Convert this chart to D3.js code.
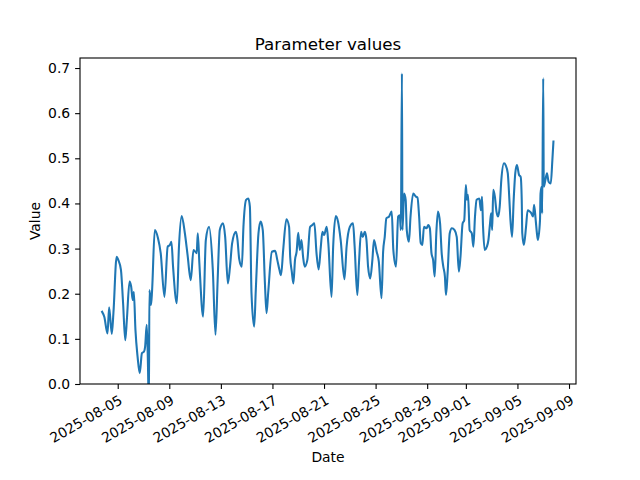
<!DOCTYPE html>
<html>
<head>
<meta charset="utf-8">
<script src="https://cdn.jsdelivr.net/npm/d3@7"></script>
<style>
  body { margin: 0; background: #fff; }
  svg { display: block; font-family: "DejaVu Sans", sans-serif; }
</style>
</head>
<body>
<svg id="chart" width="640" height="480"></svg>
<script>
const timestamps = [
"2025-08-03 19:00","2025-08-03 23:00","2025-08-04 05:00","2025-08-04 08:00","2025-08-04 13:00","2025-08-04 16:00","2025-08-04 22:00",
"2025-08-05 01:00","2025-08-05 06:00","2025-08-05 10:00","2025-08-05 14:00","2025-08-05 17:00","2025-08-05 22:00",
"2025-08-06 01:00","2025-08-06 04:00","2025-08-06 06:00","2025-08-06 09:00","2025-08-06 13:00","2025-08-06 17:00","2025-08-06 21:00",
"2025-08-07 01:00","2025-08-07 03:00","2025-08-07 06:00","2025-08-07 08:00","2025-08-07 10:00","2025-08-07 11:00","2025-08-07 14:00","2025-08-07 16:00","2025-08-07 21:00",
"2025-08-08 03:00","2025-08-08 08:00","2025-08-08 15:00","2025-08-08 21:00",
"2025-08-09 01:00","2025-08-09 04:00","2025-08-09 07:00","2025-08-09 14:00","2025-08-09 18:00","2025-08-09 23:00",
"2025-08-10 05:00","2025-08-10 10:00","2025-08-10 16:00","2025-08-10 21:00",
"2025-08-11 03:00","2025-08-11 05:00","2025-08-11 08:00","2025-08-11 15:00","2025-08-11 20:00",
"2025-08-12 02:00","2025-08-12 09:00","2025-08-12 14:00","2025-08-12 18:00","2025-08-12 22:00",
"2025-08-13 04:00","2025-08-13 08:00","2025-08-13 13:00","2025-08-13 17:00","2025-08-13 21:00",
"2025-08-14 04:00","2025-08-14 07:00","2025-08-14 10:00","2025-08-14 15:00","2025-08-14 18:00","2025-08-14 23:00",
"2025-08-15 03:00","2025-08-15 06:00","2025-08-15 09:00","2025-08-15 14:00","2025-08-15 17:00","2025-08-15 22:00",
"2025-08-16 02:00","2025-08-16 06:00","2025-08-16 10:00","2025-08-16 13:00","2025-08-16 16:00","2025-08-16 23:00",
"2025-08-17 05:00","2025-08-17 09:00","2025-08-17 13:00","2025-08-17 16:00","2025-08-17 20:00",
"2025-08-18 02:00","2025-08-18 07:00","2025-08-18 09:00","2025-08-18 12:00","2025-08-18 15:00","2025-08-18 18:00","2025-08-18 21:00",
"2025-08-19 00:00","2025-08-19 03:00","2025-08-19 06:00","2025-08-19 09:00","2025-08-19 12:00","2025-08-19 17:00","2025-08-19 22:00",
"2025-08-20 02:00","2025-08-20 06:00","2025-08-20 10:00","2025-08-20 14:00","2025-08-20 18:00","2025-08-20 21:00",
"2025-08-21 00:00","2025-08-21 05:00","2025-08-21 08:00","2025-08-21 14:00","2025-08-21 17:00","2025-08-21 22:00",
"2025-08-22 02:00","2025-08-22 07:00","2025-08-22 14:00","2025-08-22 18:00",
"2025-08-23 00:00","2025-08-23 06:00","2025-08-23 09:00","2025-08-23 14:00","2025-08-23 17:00","2025-08-23 21:00",
"2025-08-24 00:00","2025-08-24 04:00","2025-08-24 07:00","2025-08-24 10:00","2025-08-24 14:00","2025-08-24 18:00","2025-08-24 21:00",
"2025-08-25 02:00","2025-08-25 06:00","2025-08-25 11:00","2025-08-25 14:00","2025-08-25 17:00","2025-08-25 20:00",
"2025-08-26 01:00","2025-08-26 06:00","2025-08-26 09:00","2025-08-26 14:00","2025-08-26 18:00","2025-08-26 21:00","2025-08-26 23:00",
"2025-08-27 01:00","2025-08-27 02:00","2025-08-27 05:00","2025-08-27 08:00","2025-08-27 10:00","2025-08-27 14:00","2025-08-27 17:00","2025-08-27 22:00",
"2025-08-28 03:00","2025-08-28 06:00","2025-08-28 09:00","2025-08-28 12:00","2025-08-28 15:00","2025-08-28 18:00","2025-08-28 23:00",
"2025-08-29 02:00","2025-08-29 05:00","2025-08-29 08:00","2025-08-29 11:00","2025-08-29 14:00","2025-08-29 17:00","2025-08-29 20:00",
"2025-08-30 00:00","2025-08-30 03:00","2025-08-30 06:00","2025-08-30 09:00","2025-08-30 11:00","2025-08-30 14:00","2025-08-30 18:00","2025-08-30 22:00",
"2025-08-31 03:00","2025-08-31 07:00","2025-08-31 11:00","2025-08-31 14:00","2025-08-31 18:00","2025-08-31 21:00",
"2025-09-01 00:00","2025-09-01 02:00","2025-09-01 04:00","2025-09-01 07:00","2025-09-01 11:00","2025-09-01 14:00","2025-09-01 17:00","2025-09-01 20:00",
"2025-09-02 01:00","2025-09-02 04:00","2025-09-02 06:00","2025-09-02 08:00","2025-09-02 11:00","2025-09-02 15:00","2025-09-02 18:00","2025-09-02 21:00","2025-09-02 23:00",
"2025-09-03 01:00","2025-09-03 03:00","2025-09-03 06:00","2025-09-03 09:00","2025-09-03 12:00","2025-09-03 15:00","2025-09-03 18:00","2025-09-03 23:00",
"2025-09-04 02:00","2025-09-04 06:00","2025-09-04 09:00","2025-09-04 11:00","2025-09-04 14:00","2025-09-04 17:00","2025-09-04 20:00","2025-09-04 23:00",
"2025-09-05 03:00","2025-09-05 06:00","2025-09-05 08:00","2025-09-05 09:00","2025-09-05 12:00","2025-09-05 16:00","2025-09-05 19:00","2025-09-05 23:00",
"2025-09-06 02:00","2025-09-06 05:00","2025-09-06 07:00","2025-09-06 10:00","2025-09-06 12:00","2025-09-06 14:00","2025-09-06 18:00","2025-09-06 19:00","2025-09-06 21:00","2025-09-06 22:00",
"2025-09-07 00:00","2025-09-07 01:00","2025-09-07 04:00","2025-09-07 07:00","2025-09-07 10:00","2025-09-07 14:00","2025-09-07 17:00","2025-09-07 19:00"
];
const values = [
0.160,0.149,0.112,0.170,0.111,0.157,0.282,
0.275,0.253,0.179,0.097,0.142,0.227,
0.216,0.186,0.204,0.120,0.060,0.024,0.068,
0.072,0.083,0.131,0.060,-0.05,0.208,0.175,0.208,0.341,
0.323,0.290,0.193,0.304,
0.308,0.315,0.260,0.179,0.304,0.372,
0.334,0.286,0.230,0.297,
0.290,0.334,0.267,0.149,0.319,
0.348,0.253,0.109,0.230,0.341,
0.356,0.326,0.223,0.260,0.312,
0.337,0.319,0.278,0.260,0.348,0.408,
0.411,0.393,0.201,0.127,0.208,0.334,
0.360,0.341,0.223,0.157,0.201,0.293,
0.295,0.275,0.253,0.241,0.297,
0.365,0.348,0.282,0.249,0.223,0.275,0.293,
0.335,0.297,0.319,0.282,0.260,0.275,0.348,
0.352,0.356,0.290,0.254,0.304,0.337,
0.330,0.348,0.312,0.193,0.304,0.372,
0.360,0.319,0.232,0.304,
0.348,0.356,0.304,0.197,0.267,0.337,
0.326,0.337,0.319,0.260,0.234,0.275,0.319,
0.293,0.271,0.190,0.293,0.326,0.367,
0.371,0.382,0.297,0.260,0.371,0.374,0.341,
0.688,0.341,0.422,0.408,0.341,0.315,0.371,0.422,
0.415,0.413,0.371,0.312,0.308,0.348,0.345,
0.352,0.345,0.290,0.275,0.238,0.334,0.382,
0.356,0.290,0.260,0.238,0.197,0.245,0.334,0.345,
0.341,0.326,0.249,0.282,0.356,0.363,
0.441,0.408,0.419,0.341,0.334,0.304,0.371,0.408,
0.411,0.385,0.415,0.348,0.297,0.304,0.319,0.356,0.378,
0.341,0.430,0.415,0.382,0.371,0.393,0.452,0.489,
0.485,0.467,0.408,0.363,0.326,0.408,0.467,0.485,
0.463,0.459,0.408,0.334,0.308,0.348,0.385,0.382,
0.378,0.371,0.397,0.363,0.337,0.319,0.363,0.422,0.437,0.378,
0.677,0.437,0.452,0.467,0.448,0.444,0.496,0.537
];
const xTickLabels = ["2025-08-05","2025-08-09","2025-08-13","2025-08-17","2025-08-21","2025-08-25","2025-08-29","2025-09-01","2025-09-05","2025-09-09"];
const yTickValues = [0,0.1,0.2,0.3,0.4,0.5,0.6,0.7];
const xDomainStrings = ["2025-08-02 01:48","2025-09-09 13:00"];
const yDomain = [0, 0.7222];
const titleText = "Parameter values";
const xLabelText = "Date";
const yLabelText = "Value";

const FONT = "DejaVu Sans";
const parseTime = d3.timeParse("%Y-%m-%d %H:%M");
const parseDay = d3.timeParse("%Y-%m-%d");
const data = timestamps.map((t, i) => ({ t: parseTime(t), v: values[i] }));

const L = 80, R = 576, T = 58, B = 384;
const svg = d3.select("#chart");
svg.append("rect").attr("width", 640).attr("height", 480).attr("fill", "#fff");

const x = d3.scaleTime().domain(xDomainStrings.map(parseTime)).range([L, R]);
const y = d3.scaleLinear().domain(yDomain).range([B, T]);

svg.append("defs").append("clipPath").attr("id", "clip")
  .append("rect").attr("x", L).attr("y", T).attr("width", R - L).attr("height", B - T);

const line = d3.line().x(d => x(d.t)).y(d => y(d.v)).curve(d3.curveMonotoneX);
svg.append("path").datum(data)
  .attr("clip-path", "url(#clip)")
  .attr("d", line)
  .attr("fill", "none")
  .attr("stroke", "#1f77b4")
  .attr("stroke-width", 2.08)
  .attr("stroke-linejoin", "round")
  .attr("stroke-linecap", "square");

// X axis
const xAxis = d3.axisBottom(x)
  .tickValues(xTickLabels.map(parseDay))
  .tickSize(4.9)
  .tickFormat(d3.timeFormat("%Y-%m-%d"));
const gx = svg.append("g").attr("transform", `translate(0,${B})`).call(xAxis)
  .attr("font-family", FONT).attr("font-size", "13.9px");
gx.select(".domain").remove();
gx.selectAll(".tick line").attr("stroke", "#000").attr("stroke-width", 1.1);
gx.selectAll(".tick text")
  .attr("font-family", FONT)
  .attr("font-size", "13.9px")
  .attr("fill", "#000")
  .attr("text-anchor", "end")
  .attr("y", 0).attr("x", 0).attr("dy", "0.76em")
  .attr("transform", "translate(0,9.8) rotate(-30)");

// Y axis
const yAxis = d3.axisLeft(y)
  .tickValues(yTickValues)
  .tickSize(4.9)
  .tickPadding(4.9)
  .tickFormat(d3.format(".1f"));
const gy = svg.append("g").attr("transform", `translate(${L},0)`).call(yAxis)
  .attr("font-family", FONT).attr("font-size", "13.9px");
gy.select(".domain").remove();
gy.selectAll(".tick line").attr("stroke", "#000").attr("stroke-width", 1.1);
gy.selectAll(".tick text").attr("font-family", FONT).attr("font-size", "13.9px").attr("fill", "#000");

// Spines
svg.append("rect").attr("x", L).attr("y", T).attr("width", R - L).attr("height", B - T)
  .attr("fill", "none").attr("stroke", "#000").attr("stroke-width", 1.1);

// Title and labels
svg.append("text").attr("x", (L + R) / 2).attr("y", 50).attr("font-family", FONT)
  .attr("text-anchor", "middle").attr("font-size", "16.7px").attr("fill", "#000").text(titleText);
svg.append("text").attr("x", (L + R) / 2).attr("y", 462).attr("font-family", FONT)
  .attr("text-anchor", "middle").attr("font-size", "13.9px").attr("fill", "#000").text(xLabelText);
svg.append("text").attr("transform", `translate(40,${(T + B) / 2}) rotate(-90)`).attr("font-family", FONT)
  .attr("text-anchor", "middle").attr("font-size", "13.9px").attr("fill", "#000").text(yLabelText);
</script>
</body>
</html>
